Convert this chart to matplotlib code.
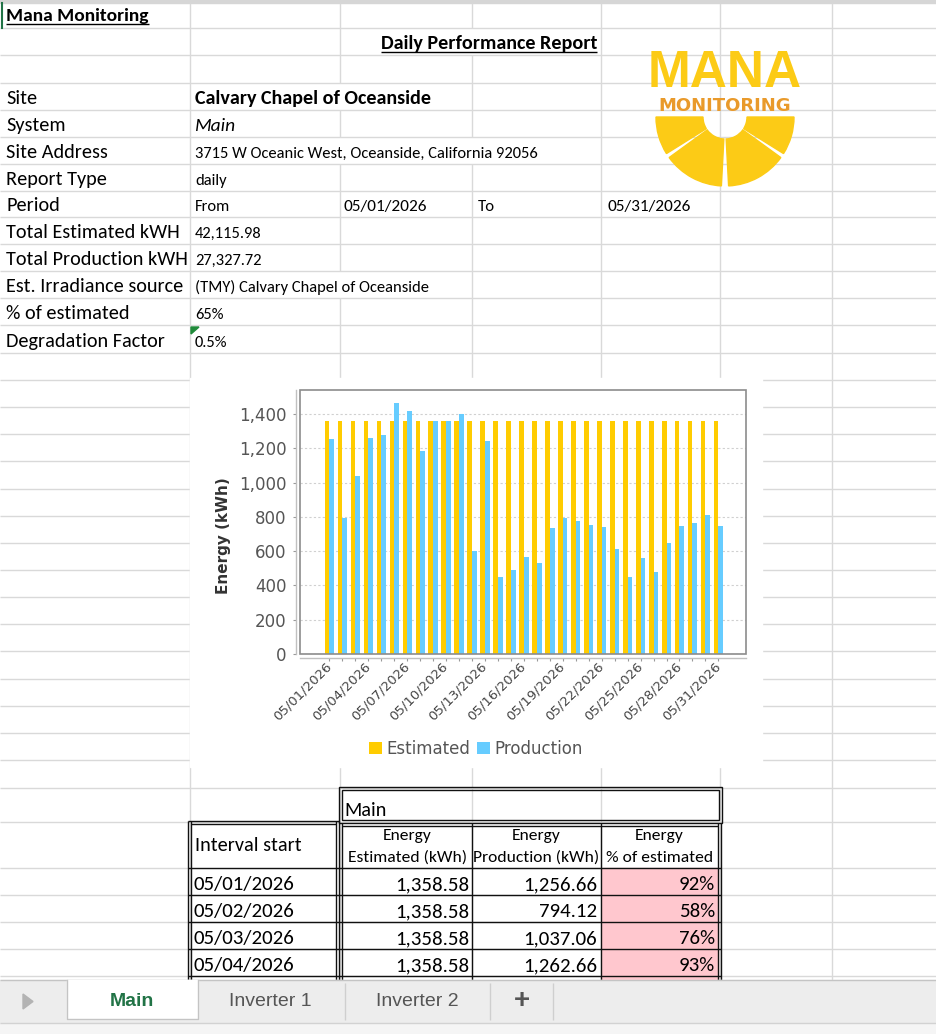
import numpy as np
import matplotlib
matplotlib.use('Agg')
import matplotlib.pyplot as plt
from matplotlib import font_manager
from matplotlib.patches import Rectangle, Wedge, Polygon, Patch

dates = ['05/%02d/2026' % d for d in range(1, 32)]
estimated = [1358.58] * 31
production = [1256.66, 794.12, 1037.06, 1262.66, 1276, 1464, 1419, 1185, 1359, 1357,
              1402, 600, 1243, 451, 490, 565, 529, 736, 794, 775,
              755, 738, 614, 449, 562, 476, 645, 747, 767, 811, 744]

info_labels = ['Site', 'System', 'Site Address', 'Report Type', 'Period',
               'Total Estimated kWH', 'Total Production kWH', 'Est. Irradiance source',
               '% of estimated', 'Degradation Factor']
info_values = ['Calvary Chapel of Oceanside', 'Main',
               '3715 W Oceanic West, Oceanside, California 92056', 'daily', 'From',
               '42,115.98', '27,327.72', '(TMY) Calvary Chapel of Oceanside', '65%', '0.5%']
period_from = '05/01/2026'
period_to = '05/31/2026'
table_rows = 4

tabs = ['Main', 'Inverter 1', 'Inverter 2']

YELLOW = '#FFCC00'
BLUE = '#66CCFF'
GRID = '#d9d9d9'

names = {f.name for f in font_manager.fontManager.ttflist}


def pick(cands):
    for c in cands:
        if c in names:
            return c
    return 'DejaVu Sans'


SHEET = pick(['Carlito', 'Liberation Sans', 'Arial'])
UI = pick(['Liberation Sans', 'Arial'])
LOGO = pick(['Liberation Sans Narrow', 'Liberation Sans'])

W, H = 936, 1034
fig = plt.figure(figsize=(W / 100, H / 100), dpi=100)
bg = fig.add_axes([0, 0, 1, 1], zorder=0)
bg.set_xlim(0, W)
bg.set_ylim(H, 0)
bg.axis('off')


def txt(x, y, s, size, **kw):
    kw.setdefault('family', SHEET)
    kw.setdefault('va', 'baseline')
    return bg.text(x, y, s, fontsize=size, **kw)


def hline(y, x0=0, x1=W, c=GRID, lw=1.0, z=1):
    bg.plot([x0, x1], [y, y], color=c, lw=lw, zorder=z, solid_capstyle='butt')


def vline(x, y0, y1, c=GRID, lw=1.0, z=1):
    bg.plot([x, x], [y0, y1], color=c, lw=lw, zorder=z, solid_capstyle='butt')


# ---- spreadsheet grid ----
bg.add_patch(Rectangle((0, 0), W, 3, color='#d6d6d6', zorder=1))
top_rows = [28, 55, 83, 110, 137, 164, 191, 217, 244, 271, 298, 325, 353]
for y in top_rows:
    hline(y)
mid_rows = [380 + 27.14 * k for k in range(15)]
for y in mid_rows:
    hline(y, 0, 190)
    hline(y, 762, W)
for y in [788, 822, 868, 895, 922, 949, 976]:
    hline(y)

col_segments = {
    190: [(3, 980)],
    340: [(3, 83), (110, 137), (164, 271), (298, 980)],
    472: [(3, 28), (55, 137), (164, 980)],
    601: [(3, 980)],
    720: [(3, 980)],
    832: [(3, 980)],
}
for x, segs in col_segments.items():
    for y0, y1 in segs:
        vline(x, y0, y1)

# white area behind the chart picture
bg.add_patch(Rectangle((190, 378), 572, 389, color='white', zorder=2))

# ---- header text ----
bg.plot([2, 2], [3, 28], color='#217346', lw=1.5, zorder=3)
t1 = txt(6, 21, 'Mana Monitoring', 14, weight='bold', zorder=3)
t2 = txt(381, 49, 'Daily Performance Report', 14.5, weight='bold', zorder=3)

row_bottoms = top_rows[3:]
for lab, val, yb in zip(info_labels, info_values, row_bottoms):
    y = yb - 6
    txt(6, y, lab, 14.6, zorder=3)
    if lab == 'Site':
        txt(195, y, val, 14.5, weight='bold', zorder=3)
    elif lab == 'System':
        txt(195, y, val, 14, style='italic', zorder=3)
    else:
        txt(195, y, val, 11.9, zorder=3)
    if lab == 'Period':
        txt(343, y, period_from, 12.4, zorder=3)
        txt(478, y, 'To', 12, zorder=3)
        txt(607, y, period_to, 12.4, zorder=3)

# error marker on degradation cell
bg.add_patch(Polygon([[191, 327], [199, 327], [191, 334]], color='#1f8a3a', zorder=3))

# ---- logo ----
logo_c = (725, 117)
for a0, a1 in [(148, 180), (93, 144), (36, 87), (0, 32)]:
    bg.add_patch(Wedge(logo_c, 69, a0, a1, width=47, color='#FCCB16', zorder=3))
txt(725, 87, 'MANA', 37, family=LOGO, weight='bold', color='#FCCB16', ha='center', zorder=3)
txt(725, 111, 'MONITORING', 13, family='DejaVu Sans', weight='bold', color='#E99A2B',
    ha='center', zorder=3)

# ---- table ----
K = '#111111'
bg.add_patch(Rectangle((602, 868), 116, 112, color='#FFC7CE', zorder=2))
# Main header box (double border)
bg.add_patch(Rectangle((339, 787), 383, 36, fill=False, ec=K, lw=1.0, zorder=4))
bg.add_patch(Rectangle((342, 790), 377, 30, fill=False, ec=K, lw=1.0, zorder=4))
bg.add_patch(Rectangle((342, 824), 377, 2, color='white', zorder=3))
txt(344, 816, 'Main', 14.5, zorder=4)
# Interval start box and column borders
for dx in [188, 191, 336, 339]:
    vline(dx, 821, 980, c=K, z=4)
for dx in [718, 721]:
    vline(dx, 823, 980, c=K, z=4)
vline(342, 823, 980, c=K, z=4)
vline(472, 823, 980, c=K, z=4)
vline(601, 823, 980, c=K, z=4)
hline(821, 188, 339, c=K, z=4)
hline(824, 191, 336, c=K, z=4)
hline(826, 342, 718, c=K, z=4)
for y in [868, 895, 922, 949, 976]:
    hline(y, 188, 721, c=K, z=4)
bg.add_patch(Rectangle((192, 825), 143, 42, color='white', zorder=3))
txt(195, 851, 'Interval start', 14.6, zorder=4)
heads = [('Energy', 'Estimated (kWh)'), ('Energy', 'Production (kWh)'), ('Energy', '% of estimated')]
for (a, b), (x0, x1) in zip(heads, [(342, 472), (472, 601), (601, 718)]):
    cx = (x0 + x1) / 2
    txt(cx, 840, a, 12.6, ha='center', zorder=4)
    txt(cx, 862, b, 12.6, ha='center', zorder=4)
for i in range(table_rows):
    yb = [890, 917, 944, 971][i]
    pct = round(production[i] / estimated[i] * 100)
    txt(193, yb, dates[i], 15, zorder=4)
    txt(469, yb, f'{estimated[i]:,.2f}', 15, ha='right', zorder=4)
    txt(597, yb, f'{production[i]:,.2f}', 15, ha='right', zorder=4)
    txt(715, yb, f'{pct}%', 15, ha='right', zorder=4)

# ---- sheet tabs ----
bg.add_patch(Rectangle((0, 980), W, H - 980, color='#ededed', zorder=5))
hline(980, c='#c4c4c4', z=6)
hline(1023, c='#d2d2d2', z=6)
bg.add_patch(Rectangle((0, 1024), W, 10, color='#f5f5f5', zorder=5))
bg.add_patch(Rectangle((67, 980), 131, 39, color='white', zorder=6))
bg.plot([67, 67, 198, 198], [980, 1019, 1019, 980], color='#c4c4c4', lw=1, zorder=6)
for x in [345, 490, 553]:
    vline(x, 983, 1020, c='#cfcfcf', z=6)
bg.add_patch(Polygon([[23, 994], [23, 1009], [33, 1001.5]], color='#b3b3b3', zorder=6))
txt(132, 1002, tabs[0], 14, family=UI, ha='center', va='center', weight='bold',
    color='#217346', zorder=7)
txt(270, 1002, tabs[1], 14, family=UI, ha='center', va='center', color='#555555', zorder=7)
txt(417, 1002, tabs[2], 14, family=UI, ha='center', va='center', color='#555555', zorder=7)
txt(522, 1001, '+', 20, family=UI, ha='center', va='center', weight='bold',
    color='#555555', zorder=7)

# ---- chart ----
ax = fig.add_axes([300 / W, 1 - 654 / H, 446 / W, 264 / H], zorder=3)
# spines first: moving a spine resets the ticks
for s in ['top', 'right']:
    ax.spines[s].set_visible(False)
for s in ['left', 'bottom']:
    ax.spines[s].set_position(('outward', 3))
    ax.spines[s].set_color('#c0c0c0')
    ax.spines[s].set_linewidth(1.0)

x = np.arange(len(dates))
ax.bar(x - 0.18, estimated, width=0.36, color=YELLOW, zorder=2)
ax.bar(x + 0.18, production, width=0.36, color=BLUE, zorder=2)
ax.set_xlim(-2.27, 32.13)
ax.set_ylim(0, 1540)
ax.tick_params(axis='y', labelsize=12, labelcolor='#555555', color='#999999',
               length=2.5, width=0.8, pad=4)
ax.tick_params(axis='x', labelsize=9.5, labelcolor='#444444', color='#999999',
               length=2.5, width=0.8, pad=2, labelrotation=45)
ax.set_yticks(range(0, 1401, 200))
ax.set_yticklabels([f'{v:,}' for v in range(0, 1401, 200)])
ax.set_xticks(x)
ax.set_xticklabels([d if i % 3 == 0 else '' for i, d in enumerate(dates)],
                   rotation=45, ha='right', va='center', rotation_mode='anchor')
ax.yaxis.grid(True, ls=(0, (2, 2)), color='#d0d0d0', lw=0.8, zorder=0)
ax.set_axisbelow(True)
ax.add_patch(Rectangle((0, 0), 1, 1, transform=ax.transAxes, fill=False,
                       ec='#8c8c8c', lw=1.2, clip_on=False, zorder=3))
ax.set_ylabel('Energy (kWh)', fontsize=11, fontweight='bold', color='#333333')
ax.yaxis.set_label_coords(-0.155, 0.45)

fig.legend(handles=[Patch(fc=YELLOW), Patch(fc=BLUE)], labels=['Estimated', 'Production'],
           loc='center', bbox_to_anchor=(476 / W, 1 - 749 / H), ncol=2, frameon=False,
           handlelength=0.75, handleheight=0.75, handletextpad=0.3, columnspacing=0.4,
           fontsize=12, labelcolor='#555555')

# underlines under the two headings
fig.canvas.draw()
inv = bg.transData.inverted()
for t, y in [(t1, 24), (t2, 52)]:
    bb = t.get_window_extent()
    (xa, _), (xb, _) = inv.transform([[bb.x0, bb.y0], [bb.x1, bb.y1]])
    hline(y, xa, xb, c='black', lw=1.0, z=3)

fig.savefig('out.png', dpi=100)
